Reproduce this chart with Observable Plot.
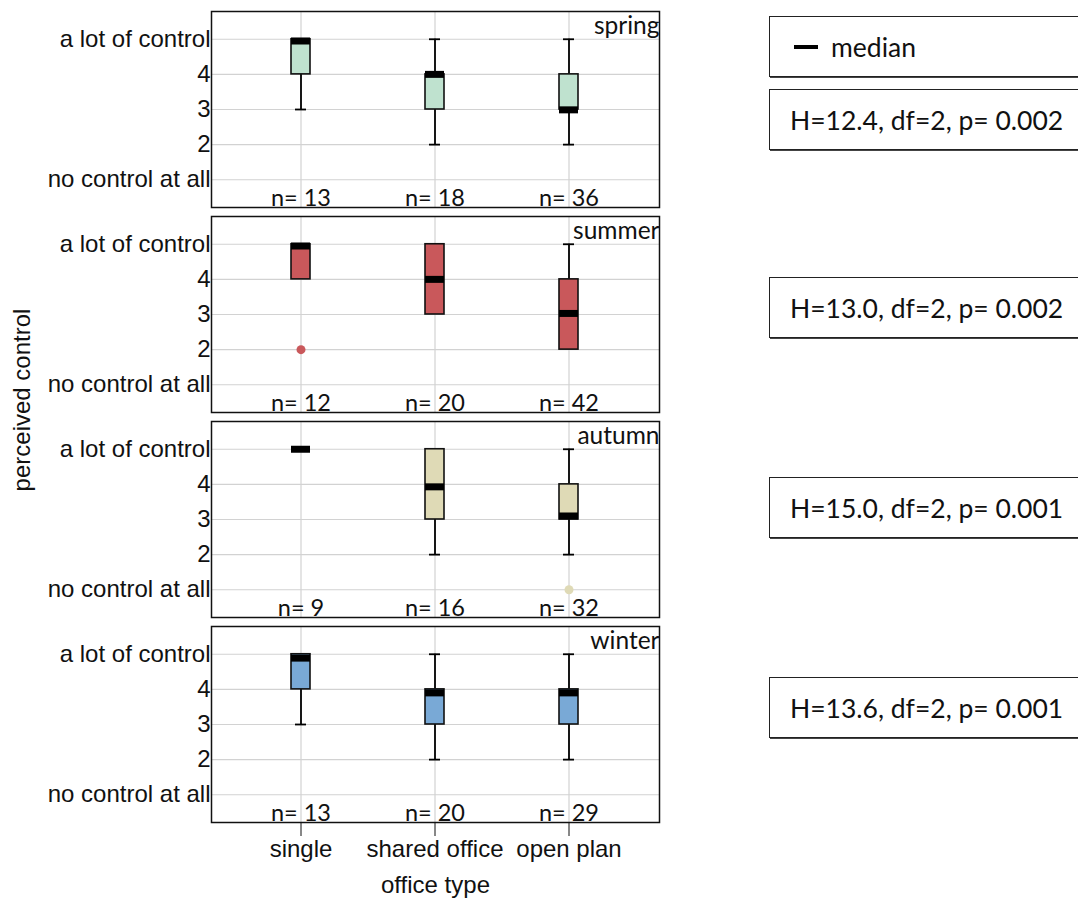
<!DOCTYPE html>
<html>
<head>
<meta charset="utf-8">
<script src="https://cdn.jsdelivr.net/npm/d3@7"></script>
<script src="https://cdn.jsdelivr.net/npm/@observablehq/plot@0.6"></script>
<style>
  html, body { margin: 0; padding: 0; background: #fff; }
  #wrap { position: relative; width: 1078px; height: 900px; overflow: hidden; }
  .box { position: absolute; left: 769px; width: 340px; height: 61px; border: 1.5px solid #222;
         box-shadow: 1px 1px 0 #444; background: #fff; font-family: Lato, sans-serif; font-size: 26.5px;
         color: #111; display: flex; align-items: center; box-sizing: border-box; padding-left: 20px; }
  .ylab { position: absolute; left: 22px; top: 400px; transform: translate(-50%, -50%) rotate(-90deg);
          font-family: "Liberation Sans", Arial, sans-serif; font-size: 24px; white-space: nowrap; color: #111; }
  .dash { display: inline-block; width: 24px; height: 4px; background: #000; margin-right: 13px; }
</style>
</head>
<body>
<div id="wrap"></div>
<script>
// ---- data ----
const seasons = ["spring", "summer", "autumn", "winter"];
const officeTypes = ["single", "shared office", "open plan"];
const seasonColors = ["#bfe2cf", "#c9585b", "#dfdab6", "#79a9d6"];
const yTicks = [1, 2, 3, 4, 5];
const yTickLabels = ["no control at all", "2", "3", "4", "a lot of control"];

// per season (rows) x office type (columns)
const q1 = [[4, 3, 3], [4, 3, 2], [5, 3, 3], [4, 3, 3]];
const q3 = [[5, 4, 4], [5, 5, 4], [5, 5, 4], [5, 4, 4]];
const medians = [[4.95, 4.0, 2.99], [4.95, 4.0, 3.03], [5.0, 3.93, 3.1], [4.89, 3.9, 3.9]];
const whiskerLow = [[3, 2, 2], [4, 3, 2], [5, 2, 2], [3, 2, 2]];
const whiskerHigh = [[5, 5, 5], [5, 5, 5], [5, 5, 5], [5, 5, 5]];
const nCounts = [[13, 18, 36], [12, 20, 42], [9, 16, 32], [13, 20, 29]];

const outlierSeason = ["summer", "autumn"];
const outlierOffice = ["single", "open plan"];
const outlierValue = [2, 1];

const statH = ["12.4", "13.0", "15.0", "13.6"];
const statDf = [2, 2, 2, 2];
const statP = ["0.002", "0.002", "0.001", "0.001"];
const statBoxTop = [89, 277, 477, 677];

// ---- tables built from the arrays ----
const boxes = [];
seasons.forEach((s, i) => officeTypes.forEach((o, j) => boxes.push({
  season: s, office: o, q1: q1[i][j], q3: q3[i][j], median: medians[i][j],
  lo: whiskerLow[i][j], hi: whiskerHigh[i][j], n: nCounts[i][j]
})));
const outliers = outlierSeason.map((s, i) => ({season: s, office: outlierOffice[i], value: outlierValue[i]}));
const lowWhiskers = boxes.filter(d => d.lo < d.q1);
const highWhiskers = boxes.filter(d => d.hi > d.q3);

const chart = Plot.plot({
  width: 1078,
  height: 900,
  marginLeft: 211,
  marginRight: 419,
  marginTop: 10,
  marginBottom: 76,
  style: {fontFamily: "'Liberation Sans', Arial, sans-serif", fontSize: "24px", color: "#111", background: "white"},
  x: {type: "band", domain: officeTypes, paddingInner: 0.858, paddingOuter: 0.6, tickSize: 14, tickPadding: 3,
      label: "office type", labelAnchor: "center", labelOffset: 70},
  y: {domain: [0.21, 5.79], ticks: yTicks, tickSize: 0, tickPadding: 1,
      tickFormat: v => yTickLabels[v - 1], label: null},
  fy: {domain: seasons, axis: null, paddingInner: 0.042, paddingOuter: 0},
  color: {domain: seasons, range: seasonColors},
  marks: [
    Plot.ruleY(yTicks, {y: d => d, stroke: "#d2d2d2", strokeWidth: 1.2}),
    Plot.ruleX(officeTypes, {x: d => d, stroke: "#d2d2d2", strokeWidth: 1.2}),
    Plot.ruleX(lowWhiskers, {x: "office", fy: "season", y1: "lo", y2: "q1", stroke: "black", strokeWidth: 1.8}),
    Plot.ruleX(highWhiskers, {x: "office", fy: "season", y1: "q3", y2: "hi", stroke: "black", strokeWidth: 1.8}),
    Plot.tickY(lowWhiskers, {x: "office", fy: "season", y: "lo", stroke: "black", strokeWidth: 1.8, insetLeft: 4, insetRight: 4}),
    Plot.tickY(highWhiskers, {x: "office", fy: "season", y: "hi", stroke: "black", strokeWidth: 1.8, insetLeft: 4, insetRight: 4}),
    Plot.barY(boxes, {x: "office", fy: "season", y1: "q1", y2: "q3", fill: "season", stroke: "#111", strokeWidth: 1.6}),
    Plot.tickY(boxes, {x: "office", fy: "season", y: "median", stroke: "black", strokeWidth: 7}),
    Plot.dot(outliers, {x: "office", fy: "season", y: "value", fill: "season", r: 4.5}),
    Plot.text(boxes, {x: "office", fy: "season", text: d => `n= ${d.n}`, frameAnchor: "bottom", lineAnchor: "bottom",
      dy: -2, fontFamily: "Lato, sans-serif", fontSize: 23.5, fill: "#111"}),
    Plot.text(seasons, {fy: d => d, text: d => d, frameAnchor: "top-right", lineAnchor: "top", dy: 5,
      fontFamily: "Lato, sans-serif", fontSize: 24.5, fill: "#111"}),
    Plot.frame({stroke: "#111", strokeWidth: 1.5})
  ]
});

const wrap = document.getElementById("wrap");
wrap.appendChild(chart);

const ylab = document.createElement("div");
ylab.className = "ylab";
ylab.textContent = "perceived control";
wrap.appendChild(ylab);

const legend = document.createElement("div");
legend.className = "box";
legend.style.top = "16px";
legend.style.paddingLeft = "24px";
legend.innerHTML = '<span class="dash"></span><span>median</span>';
wrap.appendChild(legend);

seasons.forEach((s, i) => {
  const b = document.createElement("div");
  b.className = "box";
  b.style.top = statBoxTop[i] + "px";
  b.textContent = `H=${statH[i]}, df=${statDf[i]}, p= ${statP[i]}`;
  wrap.appendChild(b);
});
</script>
</body>
</html>
